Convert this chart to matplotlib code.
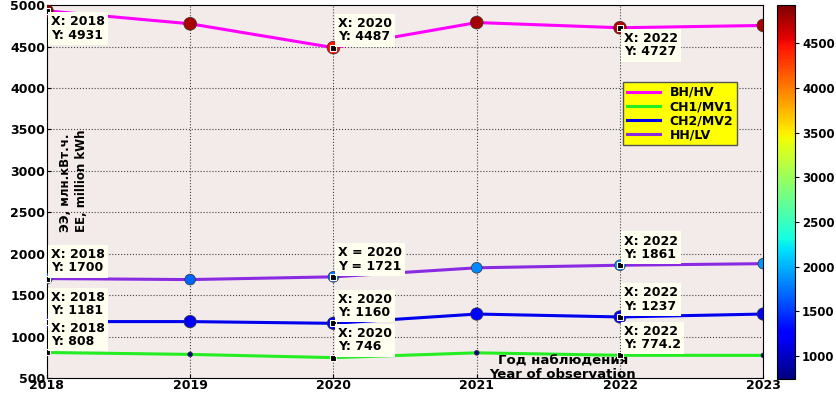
import matplotlib
matplotlib.use('Agg')
import matplotlib.pyplot as plt
import numpy as np

years = [2018, 2019, 2020, 2021, 2022, 2023]
hv = [4931, 4775, 4487, 4790, 4727, 4755]
mv1 = [808, 785, 746, 804, 774.2, 773]
mv2 = [1181, 1181, 1160, 1272, 1237, 1272]
lv = [1700, 1688, 1721, 1830, 1861, 1880]

names = ['BH/HV', 'CH1/MV1', 'CH2/MV2', 'HH/LV']
colors = ['#ff00ff', '#22ee22', '#0000ee', '#8a2be2']
series = [hv, mv1, mv2, lv]

# data tips: (series index, year index, separator, position)
tips = [
    (0, 0, ':', 'below'), (0, 2, ':', 'above'), (0, 4, ':', 'below'),
    (3, 0, ':', 'above'), (3, 2, ' =', 'above'), (3, 4, ':', 'above'),
    (2, 0, ':', 'above'), (2, 2, ':', 'above'), (2, 4, ':', 'above'),
    (1, 0, ':', 'above'), (1, 2, ':', 'above'), (1, 4, ':', 'above'),
]

plt.rcParams['font.family'] = ['DejaVu Sans']
plt.rcParams['font.weight'] = 'bold'

fig = plt.figure(figsize=(8.37, 3.95), dpi=100)
ax = fig.add_axes([0.056, 0.043, 0.856, 0.944])
cax = fig.add_axes([0.928, 0.041, 0.022, 0.947])
ax.set_facecolor('#f3eaea')

vmin = min(min(s) for s in series)
vmax = max(max(s) for s in series)
for s, c, n in zip(series, colors, names):
    ax.plot(years, s, color=c, lw=2.2, label=n, zorder=2)
sizes = [85, 12, 80, 60]
for s, sz in zip(series, sizes):
    sc = ax.scatter(years, s, c=s, cmap='jet', vmin=vmin, vmax=vmax, s=sz,
                    edgecolors='#333333', linewidths=0.5, zorder=3)

for si, yi, sep, pos in tips:
    x = years[yi]
    y = series[si][yi]
    ax.plot(x, y, 's', color='black', ms=4, mec='white', mew=0.8, zorder=4)
    txt = 'X%s %d\nY%s %g' % (sep, x, sep, y)
    if pos == 'below':
        off, va = (3, -3), 'top'
    else:
        off, va = (3, 3), 'bottom'
    ax.annotate(txt, (x, y), xytext=off, textcoords='offset points',
                ha='left', va=va, fontsize=9, fontweight='bold',
                linespacing=1.05, zorder=5,
                bbox=dict(boxstyle='square,pad=0.25', fc='#fffff0', ec='none'))

ax.set_xlim(2018, 2023)
ax.set_ylim(500, 5000)
ax.set_xticks(years)
ax.set_yticks(np.arange(500, 5001, 500))
ax.grid(True, color='#444444', ls=':', lw=0.8)
ax.tick_params(labelsize=9, length=3, pad=1, direction='in')
for lab in ax.get_xticklabels() + ax.get_yticklabels():
    lab.set_fontweight('bold')

ax.text(0.017, 0.53, 'ЭЭ, млн.кВт.ч.\nEE, million kWh', transform=ax.transAxes,
        rotation=90, ha='left', va='center', fontsize=8.5, fontweight='bold',
        linespacing=1.3)
ax.text(0.72, -0.008, 'Год наблюдения\nYear of observation', transform=ax.transAxes,
        ha='center', va='bottom', fontsize=9.5, fontweight='bold', linespacing=1.0)

leg = ax.legend(loc='upper left', bbox_to_anchor=(0.796, 0.81), fontsize=9,
                facecolor='yellow', edgecolor='#555555', framealpha=1,
                fancybox=False, handlelength=2.6, borderpad=0.3, labelspacing=0.1)
for t in leg.get_texts():
    t.set_fontweight('bold')

cb = fig.colorbar(sc, cax=cax)
cb.set_ticks(np.arange(1000, 4501, 500))
cax.tick_params(labelsize=8.5, length=3, pad=2)
for lab in cax.get_yticklabels():
    lab.set_fontweight('bold')

fig.savefig('out.png', dpi=100)
